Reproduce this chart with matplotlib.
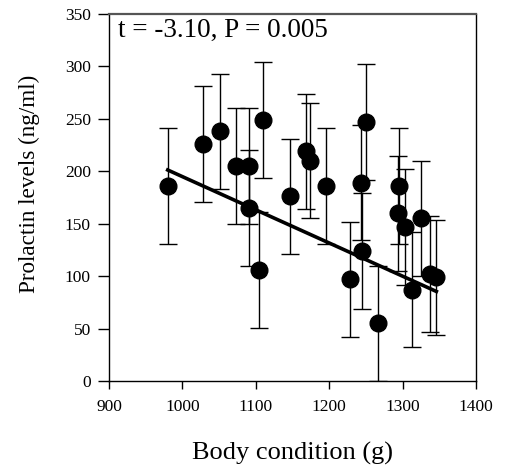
import matplotlib
matplotlib.use("Agg")
import matplotlib.pyplot as plt
import numpy as np

plt.rcParams['font.family'] = ['Liberation Serif', 'DejaVu Serif']

# Body condition (g) and prolactin (ng/ml)
body_condition = [980, 1028, 1051, 1073, 1091, 1091, 1104, 1110, 1147, 1169,
                  1174, 1196, 1229, 1243, 1245, 1250, 1266, 1294, 1295, 1303,
                  1313, 1325, 1337, 1346]
prolactin = [186, 226, 238, 205, 205, 165, 106, 249, 176, 219,
             210, 186, 97, 189, 124, 247, 55, 160, 186, 147,
             87, 155, 102, 99]
prolactin_err = [55] * len(prolactin)

# fitted line as drawn in the figure
fit_slope = -0.3165
fit_intercept = 511.4
stat_text = "t = -3.10, P = 0.005"

fig = plt.figure(figsize=(5.06, 4.76), dpi=100)
ax = fig.add_axes([0.2154, 0.1996, 0.7253, 0.771])

ax.errorbar(body_condition, prolactin, yerr=prolactin_err, fmt='o',
            color='black', ms=12, capsize=6.5, elinewidth=1, capthick=1,
            zorder=3)

xs = np.array([min(body_condition), max(body_condition)])
ax.plot(xs, fit_intercept + fit_slope * xs, color='black', lw=2.6, zorder=4)

ax.set_xlim(900, 1400)
ax.set_ylim(0, 350)
ax.set_xticks(range(900, 1401, 100))
ax.set_yticks(range(0, 351, 50))
ax.tick_params(axis='x', length=6, width=1, pad=7, labelsize=12.5)
ax.tick_params(axis='y', length=8, width=1, pad=5, labelsize=12.5)

ax.spines['top'].set_color('#555555')
ax.spines['top'].set_linewidth(1.6)
for s in ['left', 'bottom', 'right']:
    ax.spines[s].set_color('black')
    ax.spines[s].set_linewidth(1)

ax.text(0.025, 0.99, stat_text, transform=ax.transAxes, fontsize=19.5,
        va='top', ha='left')

ax.set_xlabel("Body condition (g)", fontsize=19, labelpad=19)
ax.set_ylabel("Prolactin levels (ng/ml)", fontsize=16.7)
ax.yaxis.set_label_coords(-0.188, 0.537)

plt.savefig("out.png", dpi=100)
